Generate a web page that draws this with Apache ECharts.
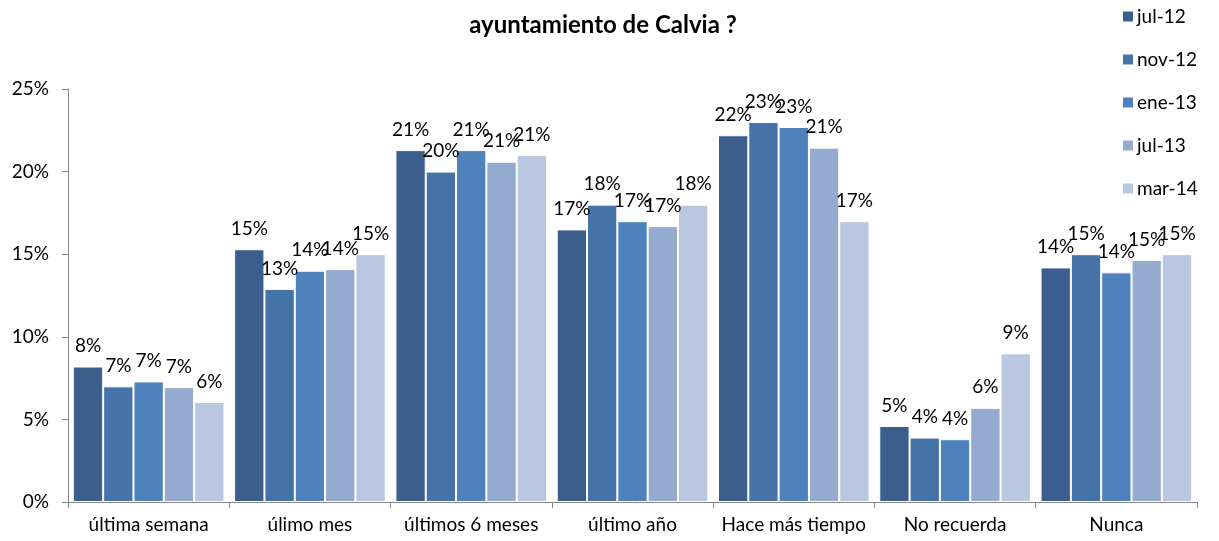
<!DOCTYPE html>
<html>
<head>
<meta charset="utf-8">
<script src="https://cdn.jsdelivr.net/npm/echarts@6/dist/echarts.min.js"></script>
<style>
  html, body { margin: 0; padding: 0; background: #fff; }
  #chart { width: 1219px; height: 541px; }
</style>
</head>
<body>
<div id="chart"></div>
<script>
// categorias del eje x
const categories = ['última semana', 'úlimo mes', 'últimos 6 meses', 'último año', 'Hace más tiempo', 'No recuerda', 'Nunca']
const periods = ['jul-12', 'nov-12', 'ene-13', 'jul-13', 'mar-14']
// valores en % por oleada
const jul12 = [8.2, 15.3, 21.3, 16.5, 22.2, 4.6, 14.2]
const nov12 = [7.0, 12.9, 20.0, 18.0, 23.0, 3.9, 15.0]
const ene13 = [7.3, 14.0, 21.3, 17.0, 22.7, 3.8, 13.9]
const jul13 = [6.95, 14.1, 20.6, 16.7, 21.45, 5.7, 14.65]
const mar14 = [6.05, 15.0, 21.0, 18.0, 17.0, 9.0, 15.0]
const yTicks = [0, 5, 10, 15, 20, 25]

const colors = ['#3B5E8C', '#4572A7', '#4F81BD', '#95AACF', '#BAC7E0']
const font = 'Lato, "Open Sans", sans-serif'

const myChart = echarts.init(document.getElementById('chart'))
myChart.setOption({
  animation: false,
  title: {
    text: 'ayuntamiento de Calvia ?',
    left: 598,
    textAlign: 'center',
    top: 8,
    textStyle: { fontFamily: font, fontSize: 24, fontWeight: 'bold', color: '#000' }
  },
  legend: {
    orient: 'vertical',
    left: 1116,
    top: 2,
    itemGap: 24,
    itemWidth: 12,
    itemHeight: 12,
    icon: 'rect',
    data: periods,
    textStyle: { fontFamily: font, fontSize: 19, color: '#000', padding: [0, 0, 0, -2] }
  },
  grid: { left: 68, right: 22, top: 89, bottom: 39 },
  xAxis: {
    type: 'category',
    data: categories,
    axisLine: { lineStyle: { color: '#868686' } },
    axisTick: { show: true, interval: 0, length: 6, lineStyle: { color: '#868686' } },
    axisLabel: { interval: 0, fontFamily: font, fontSize: 19, color: '#000', margin: 13 }
  },
  yAxis: {
    type: 'value',
    min: yTicks[0],
    max: yTicks[yTicks.length - 1],
    interval: 5,
    splitLine: { show: false },
    axisLine: { show: true, lineStyle: { color: '#868686' } },
    axisTick: { show: true, length: 6, lineStyle: { color: '#868686' } },
    axisLabel: { fontFamily: font, fontSize: 19, color: '#000', margin: 19, formatter: '{value}%' }
  },
  series: [jul12, nov12, ene13, jul13, mar14].map((vals, i) => ({
    name: periods[i],
    type: 'bar',
    data: vals,
    barGap: '0%',
    barCategoryGap: '6%',
    itemStyle: { color: colors[i], borderColor: '#fff', borderWidth: 1 },
    label: {
      show: true,
      position: 'top',
      distance: 11,
      fontFamily: font,
      fontSize: 19,
      color: '#000',
      formatter: (p) => Math.round(p.value) + '%'
    }
  }))
})
</script>
</body>
</html>
